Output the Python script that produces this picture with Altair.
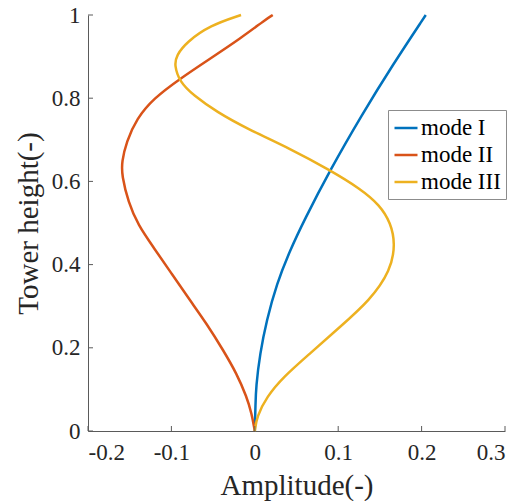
import altair as alt
import pandas as pd

# ---- data ----
mode1_y = [0, 0.026, 0.06, 0.106, 0.186, 0.266, 0.354, 0.434, 0.506, 0.627, 0.759, 0.879, 1.0]
mode1_x = [0, 0.0003, 0.0008, 0.0014, 0.0062, 0.0142, 0.0262, 0.0422, 0.0590, 0.0902, 0.128, 0.165, 0.205]

mode2_y = [0, 0.042, 0.082, 0.138, 0.194, 0.258, 0.314, 0.378, 0.442, 0.494, 0.550, 0.615, 0.647, 0.695,
           0.751, 0.799, 0.847, 0.895, 0.943, 0.991, 1.0]
mode2_x = [0, -0.0037, -0.0097, -0.0217, -0.0378, -0.0577, -0.0777, -0.0996, -0.1217, -0.1397, -0.1517,
           -0.1595, -0.1595, -0.1540, -0.1416, -0.1217, -0.0897, -0.0537, -0.0177, 0.0143, 0.0215]

mode3_y = [0, 0.034, 0.082, 0.130, 0.186, 0.250, 0.314, 0.386, 0.450, 0.500, 0.543, 0.583, 0.627, 0.679,
           0.727, 0.767, 0.807, 0.839, 0.879, 0.903, 0.935, 0.975, 1.0]
mode3_x = [0, 0.0023, 0.0142, 0.0342, 0.066, 0.102, 0.138, 0.163, 0.1685, 0.163, 0.150, 0.1261, 0.0902,
           0.0422, -0.0098, -0.0457, -0.0737, -0.0900, -0.0965, -0.0940, -0.0817, -0.0537, -0.0165]

series_names = ["mode I", "mode II", "mode III"]
series_colors = ["#0072BD", "#D95319", "#EDB120"]

x_ticks = [-0.2, -0.1, 0, 0.1, 0.2, 0.3]
y_ticks = [0, 0.2, 0.4, 0.6, 0.8, 1.0]

rows = []
for name, xs, ys in zip(series_names, [mode1_x, mode2_x, mode3_x], [mode1_y, mode2_y, mode3_y]):
    for i, (xv, yv) in enumerate(zip(xs, ys)):
        rows.append({"mode": name, "amp": xv, "h": yv, "order": i})
df = pd.DataFrame(rows)

FONT = "Liberation Serif"
W, H = 417, 416
AX = "#5a5a5a"
TXT = "#262626"

xscale = alt.Scale(domain=[-0.2, 0.3], nice=False, zero=False)
yscale = alt.Scale(domain=[0, 1], nice=False, zero=False)

lines = alt.Chart(df).mark_line(strokeWidth=2.5, interpolate="basis").encode(
    x=alt.X("amp:Q", scale=xscale,
            axis=alt.Axis(values=x_ticks, title="Amplitude(-)", grid=False, tickSize=0,
                          labelPadding=10, titlePadding=7,
                          labelExpr="datum.value == 0 ? '0' : (datum.value < 0 ? '-' : '') + format(abs(datum.value), '.1f')")),
    y=alt.Y("h:Q", scale=yscale,
            axis=alt.Axis(values=y_ticks, title="Tower height(-)", grid=False, tickSize=0,
                          labelPadding=8, titlePadding=8,
                          labelExpr="datum.value == 0 ? '0' : datum.value == 1 ? '1' : format(datum.value, '.1f')")),
    color=alt.Color("mode:N", scale=alt.Scale(domain=series_names, range=series_colors),
                    legend=alt.Legend(title=None, orient="none", legendX=300, legendY=95,
                                      symbolType="stroke", symbolSize=529, symbolStrokeWidth=2.5,
                                      labelFont=FONT, labelFontSize=23, labelColor="black",
                                      labelOffset=2, rowPadding=2, padding=5,
                                      strokeColor="#8c8c8c", fillColor="white", cornerRadius=0)),
    order="order:Q",
)

xt = pd.DataFrame({"v": x_ticks})
yt = pd.DataFrame({"v": y_ticks})

xtick_marks = alt.Chart(xt).mark_rule(color=AX, strokeWidth=1).encode(
    x=alt.X("v:Q", scale=xscale), y=alt.value(H), y2=alt.value(H - 5))
ytick_marks = alt.Chart(yt).mark_rule(color=AX, strokeWidth=1).encode(
    y=alt.Y("v:Q", scale=yscale), x=alt.value(0), x2=alt.value(5))

chart = alt.layer(lines, xtick_marks, ytick_marks).properties(
    width=W, height=H,
    autosize=alt.AutoSizeParams(type="none"),
    padding={"left": 80, "top": 7, "right": 7, "bottom": 70},
).configure_view(stroke=None).configure_axis(
    domainColor=AX, domainWidth=1,
    labelFont=FONT, labelFontSize=23, labelColor=TXT,
    titleFont=FONT, titleFontSize=29, titleColor=TXT, titleFontWeight="normal",
)

chart.save("out.html", embed_options={"renderer": "svg", "actions": False})
